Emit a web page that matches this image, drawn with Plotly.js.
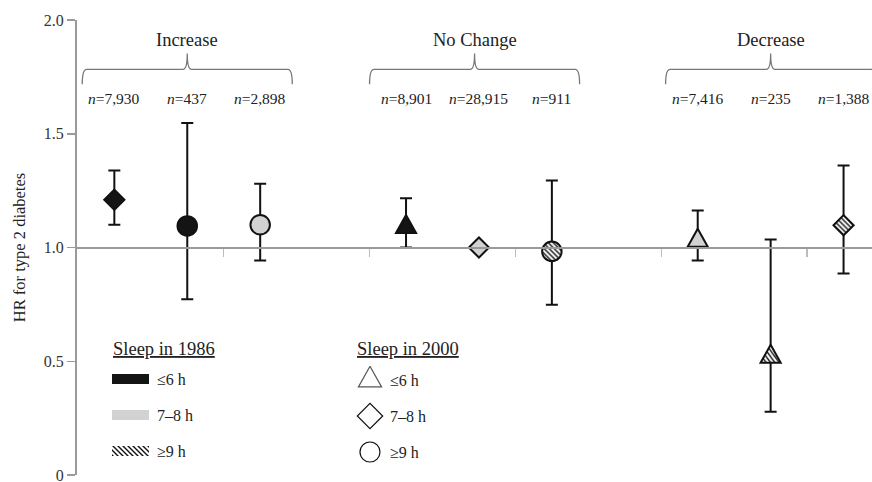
<!DOCTYPE html>
<html>
<head>
<meta charset="utf-8">
<script src="https://cdn.plot.ly/plotly-3.0.1.min.js"></script>
<style>html,body{margin:0;padding:0;background:#fff;}#chart{width:872px;height:482px;}</style>
</head>
<body>
<div id="chart"></div>
<script>
// ---- data ----
const groups = ['Increase', 'No Change', 'Decrease'];
const nLabels = ['7,930', '437', '2,898', '8,901', '28,915', '911', '7,416', '235', '1,388'];
const hr     = [1.21, 1.095, 1.10, 1.09, 1.00, 0.983, 1.03, 0.52, 1.098];
const ciLow  = [1.10, 0.772, 0.943, 1.00, null, 0.748, 0.943, 0.278, 0.886];
const ciHigh = [1.338, 1.547, 1.28, 1.216, null, 1.295, 1.163, 1.035, 1.36];
const sleep1986 = ['≤6', '≤6', '7–8', '≤6', '7–8', '≥9', '7–8', '≥9', '≥9'];
const sleep2000 = ['7–8', '≥9', '≥9', '≤6', '7–8', '≥9', '≤6', '≤6', '7–8'];
const legendCats = ['≤6 h', '7–8 h', '≥9 h'];
const yTickVals = [0, 0.5, 1, 1.5, 2];
const yTickText = ['0', '0.5', '1.0', '1.5', '2.0'];

// ---- styles ----
const HATCH_KEY = 'rgb(254, 254, 254)';
const fillFor = {'≤6': '#141414', '7–8': '#d2d2d2', '≥9': HATCH_KEY};
const symbolFor = {'≤6': 'triangle-up', '7–8': 'diamond', '≥9': 'circle'};
const sizeFor = {'triangle-up': 20, 'diamond': 15.5, 'circle': 19.5};
const FONT = 'Liberation Serif';

const slot = hr.map((_, i) => Math.floor(i / 3) * 4 + (i % 3));
const braceShift = [0, -0.06, 0];
const groupCenter = groups.map((_, g) => g * 4 + 1 + braceShift[g]);
const nanify = v => (v === null ? NaN : v);

const dataTrace = {
  type: 'scatter', mode: 'markers', x: slot, y: hr,
  marker: {
    symbol: sleep2000.map(s => symbolFor[s]),
    size: sleep2000.map(s => sizeFor[symbolFor[s]]),
    color: sleep1986.map(s => fillFor[s]),
    opacity: 1,
    line: {color: '#111', width: 2}
  },
  error_y: {
    type: 'data', symmetric: false,
    array: hr.map((v, i) => nanify(ciHigh[i]) - v),
    arrayminus: hr.map((v, i) => v - nanify(ciLow[i])),
    color: '#111', thickness: 2, width: 6
  },
  hoverinfo: 'skip'
};

// plot box (pixels) and legend geometry (plot-fraction coordinates on overlay axes)
const M = {l: 77, r: 0, t: 20, b: 7};
const PL = M.l, PW = 872 - M.l - M.r, PB = 482 - M.b, PH = 482 - M.t - M.b;
const fx = px => (px - PL) / PW;
const fy = py => (PB - py) / PH;
const rowsPx = [379, 415, 451];

const legendSwatches = {
  type: 'bar', orientation: 'h', xaxis: 'x2', yaxis: 'y2',
  y: rowsPx.map(fy), x: legendCats.map(() => fx(149) - fx(112)), base: fx(112),
  width: 10 / PH,
  marker: {color: ['#141414', '#d2d2d2', HATCH_KEY], line: {width: 0}, opacity: 1},
  hoverinfo: 'skip'
};
const legendShapes = {
  type: 'scatter', mode: 'markers', xaxis: 'x2', yaxis: 'y2',
  x: rowsPx.map(() => fx(370)), y: [fy(380), fy(416), fy(452)],
  marker: {symbol: ['triangle-up', 'diamond', 'circle'], size: [23, 19.5, 20], color: 'white', opacity: 1,
           line: {color: ['#555', '#111', '#111'], width: 1.2}},
  hoverinfo: 'skip'
};

const annotations = [];
groups.forEach((g, k) => {
  annotations.push({xref: 'x', yref: 'y', x: groupCenter[k], y: 1.91, text: g, showarrow: false,
    font: {family: FONT, size: 18.5, color: '#222'}});
});
nLabels.forEach((n, i) => {
  annotations.push({xref: 'x', yref: 'y', x: slot[i], y: 1.656, text: '<i>n</i>=' + n, showarrow: false,
    font: {family: FONT, size: 15.5, color: '#222'}});
});
annotations.push({xref: 'paper', yref: 'paper', x: fx(111), y: fy(349), xanchor: 'left', yanchor: 'middle',
  text: '<span style="text-decoration:underline">Sleep in 1986</span>', showarrow: false,
  font: {family: FONT, size: 18.5, color: '#222'}});
annotations.push({xref: 'paper', yref: 'paper', x: fx(355), y: fy(349), xanchor: 'left', yanchor: 'middle',
  text: '<span style="text-decoration:underline">Sleep in 2000</span>', showarrow: false,
  font: {family: FONT, size: 18.5, color: '#222'}});
legendCats.forEach((c, r) => {
  annotations.push({xref: 'paper', yref: 'paper', x: fx(155), y: fy(rowsPx[r]), xanchor: 'left', yanchor: 'middle',
    text: c, showarrow: false, font: {family: FONT, size: 16, color: '#222'}});
  annotations.push({xref: 'paper', yref: 'paper', x: fx(388), y: fy(rowsPx[r] + 1), xanchor: 'left', yanchor: 'middle',
    text: c, showarrow: false, font: {family: FONT, size: 16, color: '#222'}});
});

// curly braces above each group
const shapes = groupCenter.map(c => {
  const hw = 1.44, yb = 1.718, yh = 1.783, yt = 1.853, dx = 0.06;
  const x0 = c - hw, x1 = c + hw;
  const p = `M${x0},${yb} Q${x0},${yh} ${x0 + dx},${yh} L${c - dx},${yh} Q${c},${yh} ${c},${yt} ` +
            `Q${c},${yh} ${c + dx},${yh} L${x1 - dx},${yh} Q${x1},${yh} ${x1},${yb}`;
  return {type: 'path', xref: 'x', yref: 'y', path: p, line: {color: '#777', width: 1.3}};
});

const layout = {
  width: 872, height: 482,
  margin: M,
  paper_bgcolor: 'white', plot_bgcolor: 'white',
  showlegend: false,
  font: {family: FONT, color: '#222'},
  xaxis: {
    range: [-0.512, 10.39], anchor: 'free', position: 0.5,
    showline: true, linecolor: '#9a9a9a', linewidth: 2,
    ticks: 'outside', tickvals: [1.5, 3.5, 5.5, 7.5, 9.5], ticklen: 8, tickcolor: '#bdbdbd', tickwidth: 1.5,
    showticklabels: false, showgrid: false, zeroline: false, fixedrange: true
  },
  yaxis: {
    range: [0, 2], tickvals: yTickVals, ticktext: yTickText,
    ticks: 'outside', ticklen: 8, tickcolor: '#9a9a9a', tickwidth: 1.5,
    showline: true, linecolor: '#9a9a9a', linewidth: 2,
    showgrid: false, zeroline: false, fixedrange: true,
    ticklabeloverflow: 'allow',
    tickfont: {family: FONT, size: 16, color: '#333'},
    title: {text: 'HR for type 2 diabetes', font: {family: FONT, size: 16.5, color: '#222'}, standoff: 14}
  },
  xaxis2: {overlaying: 'x', anchor: 'y2', range: [0, 1], visible: false, fixedrange: true},
  yaxis2: {overlaying: 'y', anchor: 'x2', range: [0, 1], visible: false, fixedrange: true},
  annotations: annotations,
  shapes: shapes
};

Plotly.newPlot('chart', [dataTrace, legendSwatches, legendShapes], layout, {displayModeBar: false, staticPlot: true})
.then(gd => {
  const ns = 'http://www.w3.org/2000/svg';
  const svg = gd.querySelector('svg.main-svg');
  let defs = svg.querySelector('defs');
  if (!defs) { defs = document.createElementNS(ns, 'defs'); svg.insertBefore(defs, svg.firstChild); }
  const pat = document.createElementNS(ns, 'pattern');
  pat.setAttribute('id', 'hatchPat');
  pat.setAttribute('patternUnits', 'userSpaceOnUse');
  pat.setAttribute('width', '5'); pat.setAttribute('height', '5');
  const bg = document.createElementNS(ns, 'rect');
  bg.setAttribute('width', '5'); bg.setAttribute('height', '5'); bg.setAttribute('fill', 'white');
  const ln = document.createElementNS(ns, 'path');
  ln.setAttribute('d', 'M-1,-1L6,6M-1,4L1,6M4,-1L6,1');
  ln.setAttribute('stroke', '#111'); ln.setAttribute('stroke-width', '1.4');
  pat.appendChild(bg); pat.appendChild(ln); defs.appendChild(pat);
  gd.querySelectorAll('.scatterlayer path.point, .barlayer path').forEach(el => {
    const f = el.style.fill || '';
    if (f.replace(/\s/g, '') === 'rgb(254,254,254)') el.style.fill = 'url(#hatchPat)';
  });
  gd.querySelectorAll('.scatterlayer path.point').forEach(el => {
    const d = el.getAttribute('d') || '';
    if (d.indexOf('H') >= 0) {
      el.setAttribute('transform', (el.getAttribute('transform') || '') + ' scale(0.87,1.2)');
      el.style.vectorEffect = 'non-scaling-stroke';
    }
  });
});
</script>
</body>
</html>
